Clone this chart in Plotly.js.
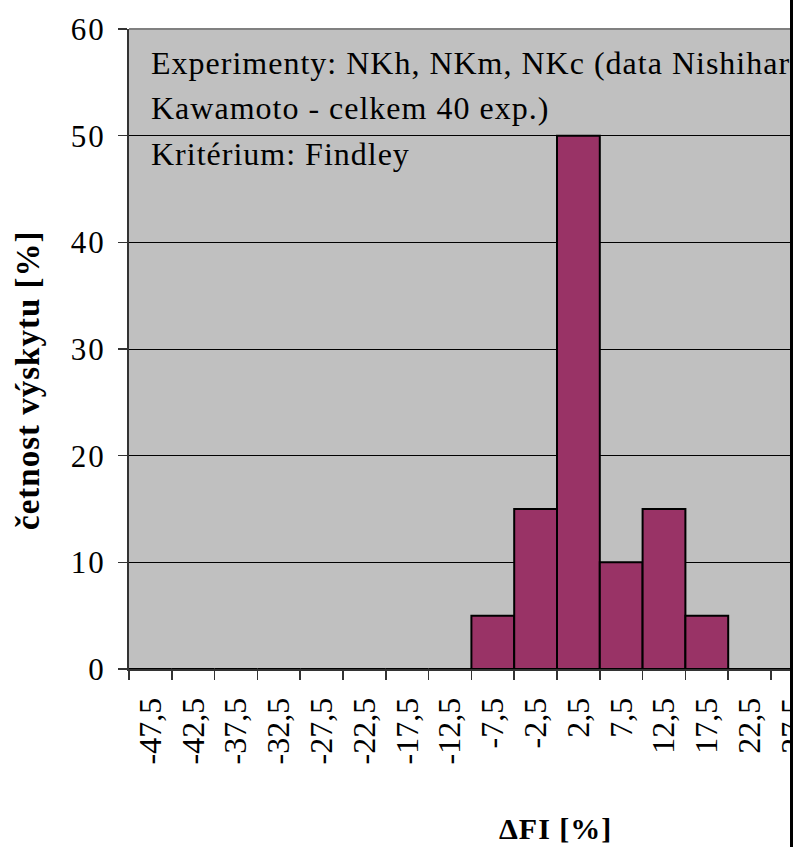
<!DOCTYPE html>
<html>
<head>
<meta charset="utf-8">
<script src="https://cdn.plot.ly/plotly-3.0.1.min.js"></script>
<style>
html, body { margin:0; padding:0; overflow:hidden; background:#fff; }
#wrap { position:relative; width:793px; height:847px; overflow:hidden; }
#edge { position:absolute; left:790px; top:0; width:3px; height:847px; background:#000; }
.annotation-text { letter-spacing: 1px; }
.ytick text { letter-spacing: 2px; }
</style>
</head>
<body>
<div id="wrap"><div id="chart"></div><div id="edge"></div></div>
<script>
// categories (class centres of ΔFI [%])
const categories = ["-47,5","-42,5","-37,5","-32,5","-27,5","-22,5","-17,5","-12,5","-7,5","-2,5",
                    "2,5","7,5","12,5","17,5","22,5","27,5","32,5","37,5","42,5","47,5"];
// frequency of occurrence [%]
const frequency = [0,0,0,0,0,0,0,0,5,15,50,10,15,5,0,0,0,0,0,0];
const yTicks = [0,10,20,30,40,50,60];
const infoLines = ["Experimenty: NKh, NKm, NKc (data Nishihara a",
                   "Kawamoto - celkem 40 exp.)",
                   "Kritérium: Findley"];
const yTitle = "četnost výskytu [%]";
const xTitle = "ΔFI [%]";

const W = 1010, H = 847;
const ml = 129, mt = 29, mb = 178, mr = W - ml - 856;
const pw = W - ml - mr, ph = H - mt - mb;
const px = v => (v - ml) / pw;
const py = v => (H - mb - v) / ph;
const serif = "Liberation Serif";

const trace = {
  type: "bar",
  x: categories,
  y: frequency,
  marker: { color: "#993366", line: { color: "#000", width: 2 } },
  hoverinfo: "none"
};

const annotations = [];
const lineY = [63, 108, 154];
infoLines.forEach((t, i) => {
  annotations.push({
    xref: "paper", yref: "paper", x: px(149), y: py(lineY[i]),
    xanchor: "left", yanchor: "middle", showarrow: false,
    text: t, font: { family: serif, size: 32, color: "#000" }
  });
});
annotations.push({
  xref: "paper", yref: "paper", x: px(28), y: py(381),
  xanchor: "center", yanchor: "middle", showarrow: false, textangle: -90,
  text: "<b>" + yTitle + "</b>", font: { family: serif, size: 33, color: "#000" }
});
annotations.push({
  xref: "paper", yref: "paper", x: px(555), y: py(828),
  xanchor: "center", yanchor: "middle", showarrow: false,
  text: "<b>" + xTitle + "</b>", font: { family: serif, size: 30, color: "#000" }
});

const layout = {
  width: W, height: H,
  margin: { l: ml, r: mr, t: mt, b: mb, pad: 0 },
  paper_bgcolor: "#fff",
  plot_bgcolor: "#C0C0C0",
  showlegend: false,
  bargap: 0,
  font: { family: serif, size: 30, color: "#000" },
  xaxis: {
    type: "category",
    categoryorder: "array", categoryarray: categories,
    tickson: "boundaries",
    ticks: "outside", ticklen: 9, tickwidth: 1.5, tickcolor: "#333",
    tickangle: -90,
    ticklabelstandoff: 14,
    showline: true, linecolor: "#333", linewidth: 2,
    showgrid: false, zeroline: false,
    tickfont: { family: serif, size: 32, color: "#000" }
  },
  yaxis: {
    range: [0, 60],
    tickvals: yTicks,
    ticks: "outside", ticklen: 9, tickwidth: 1.5, tickcolor: "#333",
    ticklabelstandoff: 6,
    showline: true, linecolor: "#333", linewidth: 2,
    showgrid: true, gridcolor: "#000", gridwidth: 1,
    zeroline: false,
    tickfont: { family: serif, size: 31, color: "#000" }
  },
  shapes: [{
    type: "line", xref: "paper", yref: "paper", x0: 0, x1: 1, y0: 1, y1: 1,
    line: { color: "#808080", width: 2 }
  }],
  annotations: annotations
};

Plotly.newPlot("chart", [trace], layout, { staticPlot: true, displayModeBar: false });
</script>
</body>
</html>
